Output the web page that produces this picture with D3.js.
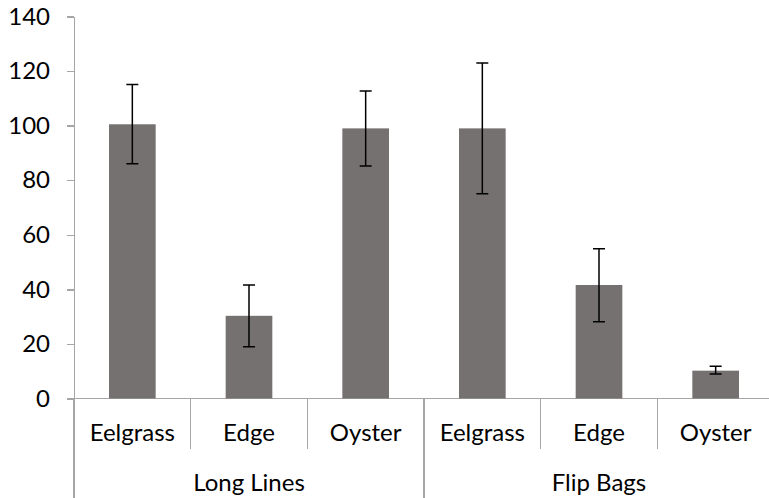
<!DOCTYPE html>
<html>
<head>
<meta charset="utf-8">
<style>
  body { margin: 0; background: #fff; }
  svg text { font-family: Lato, "Open Sans", sans-serif; fill: #000; }
  .axis .domain, .axis line, .sep { stroke: #a6a6a6; stroke-width: 1.3px; shape-rendering: crispEdges; }
  .bar { fill: #767171; }
  .err { stroke: #000; stroke-width: 1.5px; fill: none; }
</style>
</head>
<body>
<div id="chart"></div>
<script src="https://cdn.jsdelivr.net/npm/d3@7"></script>
<script>
  // data
  var groups = ["Long Lines", "Flip Bags"];
  var categories = ["Eelgrass", "Edge", "Oyster", "Eelgrass", "Edge", "Oyster"];
  var groupOf = [0, 0, 0, 1, 1, 1];
  var means = [100.5, 30.3, 99.0, 99.0, 41.6, 10.2];
  var errLow = [86.0, 19.0, 85.2, 75.0, 28.1, 9.0];
  var errHigh = [115.1, 41.6, 112.7, 123.0, 54.9, 11.8];
  var yTicks = [0, 20, 40, 60, 80, 100, 120, 140];

  var W = 769, H = 498;
  var plotLeft = 74, plotRight = 774, plotTop = 16.5, plotBottom = 398.5;
  var fontSize = "24px";

  var svg = d3.select("#chart").append("svg")
      .attr("width", W)
      .attr("height", H);

  var idx = d3.range(categories.length);
  var x = d3.scaleBand().domain(idx).range([plotLeft, plotRight])
      .paddingInner(0.6).paddingOuter(0.3);
  var y = d3.scaleLinear().domain([0, 140]).range([plotBottom, plotTop]);
  var step = x.step();

  // y axis
  var yAxis = d3.axisLeft(y).tickValues(yTicks).tickSize(7).tickSizeOuter(0).tickPadding(17);
  svg.append("g")
      .attr("class", "axis")
      .attr("transform", "translate(" + plotLeft + ",0)")
      .call(yAxis)
    .selectAll("text")
      .style("font-size", fontSize);

  // axis line continues down through the label area
  svg.append("line").attr("class", "sep")
      .attr("x1", plotLeft).attr("x2", plotLeft)
      .attr("y1", plotBottom).attr("y2", H);

  // baseline
  svg.append("line").attr("class", "sep")
      .attr("x1", plotLeft).attr("x2", plotRight)
      .attr("y1", y(0)).attr("y2", y(0));

  // bars
  svg.selectAll("rect.bar")
    .data(idx)
    .enter().append("rect")
      .attr("class", "bar")
      .attr("x", function (i) { return x(i); })
      .attr("width", x.bandwidth())
      .attr("y", function (i) { return y(means[i]); })
      .attr("height", function (i) { return y(0) - y(means[i]); });

  // error bars
  var cap = 6;
  svg.selectAll("path.err")
    .data(idx)
    .enter().append("path")
      .attr("class", "err")
      .attr("d", function (i) {
        var cx = x(i) + x.bandwidth() / 2;
        var y1 = y(errHigh[i]), y0 = y(errLow[i]);
        return "M" + cx + "," + y1 + "V" + y0 +
               "M" + (cx - cap) + "," + y1 + "H" + (cx + cap) +
               "M" + (cx - cap) + "," + y0 + "H" + (cx + cap);
      });

  // category separators
  d3.range(1, categories.length).forEach(function (i) {
    var sx = plotLeft + i * step;
    var isGroupEdge = groupOf[i] !== groupOf[i - 1];
    svg.append("line").attr("class", "sep")
        .attr("x1", sx).attr("x2", sx)
        .attr("y1", plotBottom).attr("y2", isGroupEdge ? H : 449);
  });

  svg.selectAll("text.cat")
    .data(idx)
    .enter().append("text")
      .attr("class", "cat")
      .attr("x", function (i) { return x(i) + x.bandwidth() / 2; })
      .attr("y", 441)
      .attr("text-anchor", "middle")
      .style("font-size", fontSize)
      .text(function (i) { return categories[i]; });

  svg.selectAll("text.grp")
    .data(groups)
    .enter().append("text")
      .attr("class", "grp")
      .attr("x", function (g, gi) {
        var members = idx.filter(function (i) { return groupOf[i] === gi; });
        return plotLeft + (members[0] + members.length / 2) * step;
      })
      .attr("y", 491)
      .attr("text-anchor", "middle")
      .style("font-size", fontSize)
      .text(function (g) { return g; });
</script>
</body>
</html>
